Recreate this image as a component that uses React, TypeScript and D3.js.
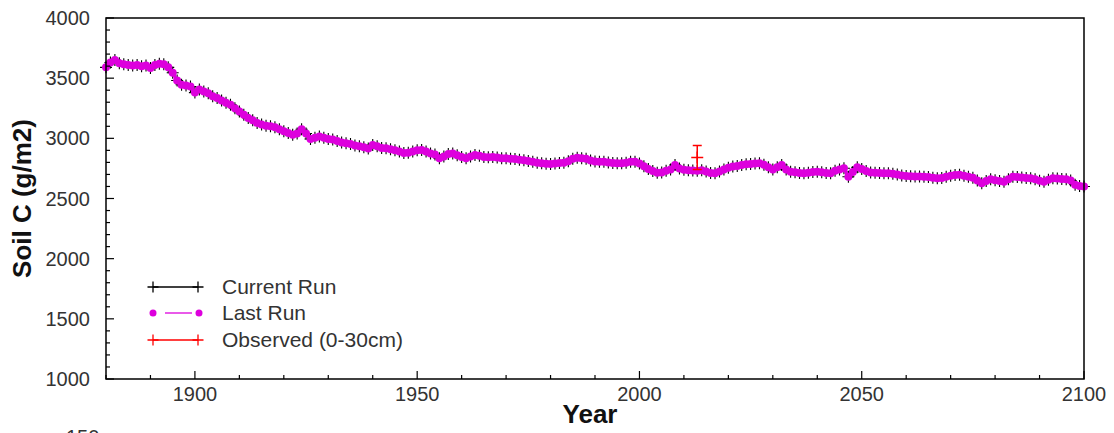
import React from "react";
import * as d3 from "d3";

const years: number[] = d3.range(1880, 2101);

const currentRun: number[] = [
  3590, 3630, 3650, 3625, 3615, 3610, 3605, 3610, 3600, 3605,
  3585, 3610, 3620, 3615, 3590, 3545, 3480, 3445, 3440, 3430,
  3380, 3405, 3390, 3375, 3350, 3335, 3315, 3295, 3280, 3250,
  3222, 3195, 3170, 3150, 3128, 3115, 3105, 3100, 3092, 3075,
  3058, 3045, 3030, 3040, 3075, 3040, 2995, 3005, 3015, 3005,
  2995, 2990, 2978, 2965, 2960, 2952, 2940, 2935, 2925, 2915,
  2945, 2935, 2920, 2918, 2910, 2900, 2890, 2878, 2880, 2890,
  2900, 2903, 2890, 2875, 2865, 2835, 2850, 2870, 2875, 2860,
  2845, 2835, 2850, 2862, 2855, 2845, 2842, 2845, 2840, 2835,
  2834, 2830, 2828, 2822, 2818, 2812, 2805, 2797, 2792, 2788,
  2787, 2790, 2795, 2797, 2810, 2830, 2838, 2835, 2830, 2815,
  2808, 2806, 2806, 2800, 2795, 2792, 2792, 2798, 2805, 2806,
  2790, 2768, 2745, 2728, 2714, 2716, 2730, 2740, 2778, 2750,
  2738, 2735, 2732, 2730, 2735, 2725, 2712, 2709, 2725, 2742,
  2755, 2765, 2770, 2778, 2785, 2787, 2790, 2792, 2780, 2760,
  2742, 2760, 2778, 2740, 2723, 2718, 2712, 2709, 2715, 2720,
  2723, 2718, 2712, 2709, 2730, 2742, 2752, 2681, 2720, 2759,
  2745, 2728, 2716, 2714, 2712, 2710, 2709, 2705, 2700, 2692,
  2687, 2685, 2683, 2682, 2681, 2678, 2672, 2668, 2670, 2680,
  2690, 2695, 2698, 2690, 2681, 2672, 2650, 2626, 2645, 2659,
  2652, 2645, 2640, 2660, 2681, 2678, 2674, 2670, 2668, 2660,
  2648, 2640, 2655, 2668, 2666, 2662, 2659, 2650, 2615, 2604,
  2600,
];

const lastRun: number[] = currentRun.slice();

const observedYear: number[] = [2013];
const observedValue: number[] = [2840];
const observedErr: number[] = [100];

const yTicks: number[] = [1000, 1500, 2000, 2500, 3000, 3500, 4000];
const xTicks: number[] = [1900, 1950, 2000, 2050, 2100];
const legendLabels: string[] = ["Current Run", "Last Run", "Observed (0-30cm)"];

const W = 1114;
const H = 433;
const L = 106;
const R = 1084;
const T = 18;
const B = 379;
const MAGENTA = "#dd00dd";
const FONT = "'Liberation Sans', Arial, sans-serif";

export default function App() {
  const x = d3.scaleLinear().domain([1880, 2100]).range([L, R]);
  const y = d3.scaleLinear().domain([1000, 4000]).range([B, T]);
  const pts = years.map((yr, i) => [x(yr), y(currentRun[i])] as [number, number]);
  const ptsLast = years.map((yr, i) => [x(yr), y(lastRun[i])] as [number, number]);
  const line = d3.line();

  const plus = (cx: number, cy: number, s: number, color: string, key: string, sw = 1) => (
    <path key={key} d={`M${cx - s},${cy}H${cx + s}M${cx},${cy - s}V${cy + s}`} stroke={color} strokeWidth={sw} fill="none" />
  );

  const yMinor = d3.range(1000, 4001, 100);
  const xMinor = d3.range(1880, 2101, 10);

  const legendY = [287, 313, 340];

  return (
    <svg width={W} height={H} style={{ position: "absolute", left: 0, top: 0, background: "#fff" }}>
      <rect x={0} y={0} width={W} height={H} fill="#fff" />
      {/* Current run */}
      <path d={line(pts) || ""} stroke="#000" strokeWidth={1} fill="none" />
      {pts.map((p, i) => plus(p[0], p[1], 6, "#000", "c" + i, 1.1))}
      {/* Last run */}
      <path d={line(ptsLast) || ""} stroke={MAGENTA} strokeWidth={3.5} fill="none" />
      {ptsLast.map((p, i) => (
        <circle key={"l" + i} cx={p[0]} cy={p[1]} r={4} fill={MAGENTA} />
      ))}
      {/* Observed */}
      {observedYear.map((yr, i) => {
        const cx = x(yr);
        const cy = y(observedValue[i]);
        const y1 = y(observedValue[i] + observedErr[i]);
        const y2 = y(observedValue[i] - observedErr[i]);
        return (
          <g key={"o" + i} stroke="#ff0000" strokeWidth={1.5} fill="none">
            <path d={`M${cx},${y1}V${y2}M${cx - 4.5},${y1}H${cx + 4.5}M${cx - 4.5},${y2}H${cx + 4.5}`} />
            {plus(cx, cy, 6, "#ff0000", "op" + i, 1.5)}
          </g>
        );
      })}
      {/* Frame */}
      <path d={`M${L},${T}H${R}V${B}H${L}Z`} stroke="#000" strokeWidth={1.5} fill="none" />
      {/* ticks */}
      {yMinor.map((v) => {
        const major = v % 500 === 0;
        return <line key={"ym" + v} x1={L} x2={L + (major ? 8 : 4)} y1={y(v)} y2={y(v)} stroke="#000" strokeWidth={1.2} />;
      })}
      {xMinor.map((v) => {
        const major = v % 50 === 0;
        return <line key={"xm" + v} x1={x(v)} x2={x(v)} y1={B} y2={B - (major ? 8 : 4)} stroke="#000" strokeWidth={1.2} />;
      })}
      {yTicks.map((v) => (
        <text key={"yt" + v} x={L - 16} y={y(v)} dy="0.35em" textAnchor="end" fontFamily={FONT} fontSize={20} fill="#333">
          {v}
        </text>
      ))}
      {xTicks.map((v) => (
        <text key={"xt" + v} x={x(v)} y={B + 22} textAnchor="middle" fontFamily={FONT} fontSize={20} fill="#333">
          {v}
        </text>
      ))}
      <text x={(L + R) / 2 - 5} y={423} textAnchor="middle" fontFamily={FONT} fontSize={26} fontWeight="bold" fill="#111">
        Year
      </text>
      <text transform={`translate(31,${(T + B) / 2}) rotate(-90)`} textAnchor="middle" fontFamily={FONT} fontSize={26} fontWeight="bold" fill="#111">
        Soil C (g/m2)
      </text>
      <text x={66} y={444} fontFamily={FONT} fontSize={20} fill="#333">150</text>
      {/* Legend */}
      <g>
        <line x1={153} x2={198} y1={legendY[0]} y2={legendY[0]} stroke="#000" strokeWidth={1.3} />
        {plus(153, legendY[0], 5.5, "#000", "lg0a", 1.3)}
        {plus(198, legendY[0], 5.5, "#000", "lg0b", 1.3)}
        <line x1={165} x2={192} y1={legendY[1]} y2={legendY[1]} stroke={MAGENTA} strokeWidth={1.3} />
        <circle cx={153} cy={legendY[1]} r={3.5} fill={MAGENTA} />
        <circle cx={199} cy={legendY[1]} r={3.5} fill={MAGENTA} />
        <line x1={153} x2={198} y1={legendY[2]} y2={legendY[2]} stroke="#ff0000" strokeWidth={1.3} />
        {plus(153, legendY[2], 5.5, "#ff0000", "lg2a", 1.3)}
        {plus(198, legendY[2], 5.5, "#ff0000", "lg2b", 1.3)}
        {legendLabels.map((t, i) => (
          <text key={"lt" + i} x={222} y={legendY[i]} dy="0.35em" fontFamily={FONT} fontSize={21} fill="#333">
            {t}
          </text>
        ))}
      </g>
    </svg>
  );
}
